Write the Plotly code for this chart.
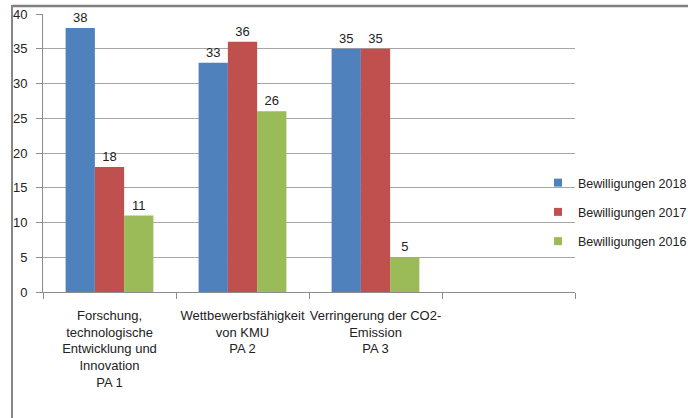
import plotly.graph_objects as go

categories = [
    "Forschung,<br>technologische<br>Entwicklung und<br>Innovation<br>PA 1",
    "Wettbewerbsfähigkeit<br>von KMU<br>PA 2",
    "Verringerung der CO2-<br>Emission<br>PA 3",
    " ",
]
series_names = ["Bewilligungen 2018", "Bewilligungen 2017", "Bewilligungen 2016"]
values_2018 = [38, 33, 35]
values_2017 = [18, 36, 35]
values_2016 = [11, 26, 5]
colors = ["#4F81BD", "#C0504D", "#9BBB59"]

FONT = "Liberation Sans"
W, H = 688, 418
PL, PR, PT, PB = 43, 575, 14, 292
L, R, T, B = PL, W - PR, PT, H - PB

def pxx(px):
    return (px - PL) / (PR - PL)

def pxy(py):
    return (PB - py) / (PB - PT)

fig = go.Figure()
for i, (name, vals) in enumerate(zip(series_names, [values_2018, values_2017, values_2016])):
    fig.add_trace(go.Bar(
        x=categories[:len(vals)], y=vals, name=name,
        marker=dict(color=colors[i], line=dict(width=0)),
        text=[str(v) for v in vals], textposition="outside",
        textfont=dict(family=FONT, size=13, color="#222222"),
        cliponaxis=False, showlegend=False,
    ))
# legend entries with small square keys
for i, name in enumerate(series_names):
    fig.add_trace(go.Scatter(
        x=[None], y=[None], mode="markers", name=name, legendgroup=name,
        marker=dict(symbol="square", size=8, color=colors[i]),
    ))

fig.update_layout(
    width=W, height=H,
    margin=dict(l=L, r=R, t=T, b=B, pad=0, autoexpand=False),
    paper_bgcolor="white", plot_bgcolor="white",
    barmode="group", bargap=0.34, bargroupgap=0,
    font=dict(family=FONT, size=13, color="#222222"),
    showlegend=True,
    legend=dict(
        x=pxx(538), y=pxy(212), xanchor="left", yanchor="middle",
        font=dict(family=FONT, size=12.5, color="#222222"),
        tracegroupgap=10, traceorder="grouped", bgcolor="rgba(0,0,0,0)",
        borderwidth=0,
    ),
    xaxis=dict(
        type="category", categoryorder="array", categoryarray=categories,
        range=[-0.5, len(categories) - 0.5],
        tickson="boundaries", ticks="outside", ticklen=6, tickcolor="#8c8c8c",
        showline=True, linecolor="#8c8c8c", linewidth=1, tickangle=0,
        showgrid=False, tickfont=dict(family=FONT, size=13, color="#222222"),
        ticklabelstandoff=11,
    ),
    yaxis=dict(
        range=[0, 40], dtick=5, tick0=0,
        showgrid=True, gridcolor="#a6a6a6", gridwidth=1,
        showline=True, linecolor="#8c8c8c", linewidth=1,
        ticks="outside", ticklen=6, tickcolor="#8c8c8c",
        zeroline=False, tickfont=dict(family=FONT, size=13, color="#222222"),
        ticklabelstandoff=6,
    ),
    shapes=[
        dict(type="line", xref="paper", yref="paper", layer="above",
             x0=pxx(12), x1=pxx(700), y0=pxy(6), y1=pxy(6),
             line=dict(color="#808080", width=2.5)),
        dict(type="line", xref="paper", yref="paper", layer="above",
             x0=pxx(12), x1=pxx(12), y0=pxy(5), y1=pxy(430),
             line=dict(color="#868686", width=2)),
    ],
)

fig.write_html("out.html", config={"displayModeBar": False},
               post_script="document.body.style.margin='0';")
